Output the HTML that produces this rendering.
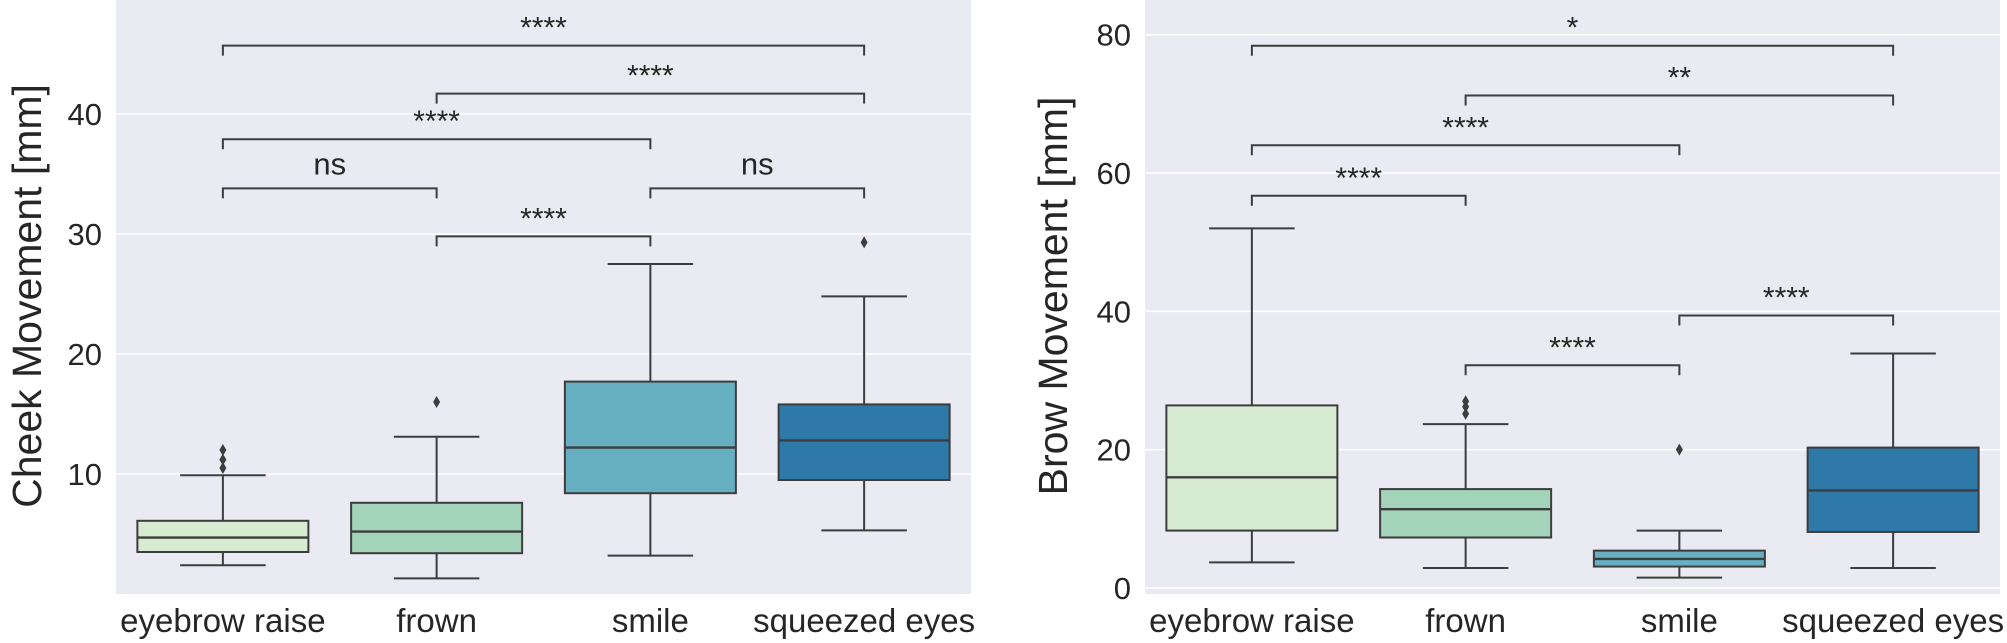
<!DOCTYPE html>
<html><head><meta charset="utf-8"><style>
html,body{margin:0;padding:0;background:#fff;}
svg{display:block;}
text{font-family:"Liberation Sans",sans-serif;fill:#262626;}
</style></head><body>
<svg id="s" width="2007" height="643" viewBox="0 0 2007 643" xmlns="http://www.w3.org/2000/svg"></svg>
<script>
const s=document.getElementById('s');let h='';
const cols=['#d6ebd2','#a3d3b9','#66afc1','#2f79a9'];
const cats=['eyebrow raise','frown','smile','squeezed eyes'];
const LC='#3d3d3d';
function panel(o){
  const {x0,x1,y0,y1,Y,ticks,data,br,label,lx}=o;
  h+=`<rect x="${x0}" y="${y0}" width="${x1-x0}" height="${y1-y0}" fill="#eaeaf2"/>`;
  ticks.forEach(t=>{const y=Y(t);h+=`<line x1="${x0}" x2="${x1}" y1="${y}" y2="${y}" stroke="#fff" stroke-width="1.6"/>`;
    h+=`<text x="${x0-14}" y="${y+11}" font-size="31" text-anchor="end">${t}</text>`;});
  const sp=(x1-x0)/4;const cx=i=>x0+sp*(i+0.5);const bw=sp*0.8;
  data.forEach((d,i)=>{const c=cx(i);const [lo,q1,md,q3,hi,out]=d;
    h+=`<line x1="${c}" x2="${c}" y1="${Y(q3)}" y2="${Y(hi)}" stroke="${LC}" stroke-width="2"/>`;
    h+=`<line x1="${c}" x2="${c}" y1="${Y(q1)}" y2="${Y(lo)}" stroke="${LC}" stroke-width="2"/>`;
    h+=`<line x1="${c-bw/4}" x2="${c+bw/4}" y1="${Y(hi)}" y2="${Y(hi)}" stroke="${LC}" stroke-width="2"/>`;
    h+=`<line x1="${c-bw/4}" x2="${c+bw/4}" y1="${Y(lo)}" y2="${Y(lo)}" stroke="${LC}" stroke-width="2"/>`;
    h+=`<rect x="${c-bw/2}" y="${Y(q3)}" width="${bw}" height="${Y(q1)-Y(q3)}" fill="${cols[i]}" stroke="${LC}" stroke-width="2"/>`;
    h+=`<line x1="${c-bw/2}" x2="${c+bw/2}" y1="${Y(md)}" y2="${Y(md)}" stroke="${LC}" stroke-width="2.4"/>`;
    (out||[]).forEach(v=>{const y=Y(v);h+=`<path d="M${c} ${y-6}L${c+3.5} ${y}L${c} ${y+6}L${c-3.5} ${y}Z" fill="${LC}"/>`;});
    h+=`<text x="${c}" y="632" font-size="33" text-anchor="middle">${cats[i]}</text>`;
  });
  br.forEach(([a,b,v,t])=>{const y=Y(v);const xa=cx(a),xb=cx(b);
    h+=`<path d="M${xa} ${y+10}V${y}H${xb}V${y+10}" fill="none" stroke="${LC}" stroke-width="2"/>`;
    const ns=t=='ns';
    h+=`<text x="${(xa+xb)/2}" y="${ns?y-14:y-8}" font-size="${ns?31:30}" text-anchor="middle">${t}</text>`;});
  h+=`<text transform="translate(${lx},296) rotate(-90)" font-size="41" text-anchor="middle">${label}</text>`;
}
panel({x0:116,x1:971,y0:0,y1:594,Y:v=>474-(v-10)*12.0,ticks:[10,20,30,40],
 data:[[2.4,3.5,4.7,6.1,9.9,[10.5,11.2,12.0]],[1.3,3.4,5.2,7.6,13.1,[16]],[3.2,8.4,12.2,17.7,27.5],[5.3,9.5,12.8,15.8,24.8,[29.3]]],
 br:[[0,1,33.8,'ns'],[1,2,29.8,'****'],[2,3,33.8,'ns'],[0,2,37.9,'****'],[1,3,41.7,'****'],[0,3,45.7,'****']],
 label:'Cheek Movement [mm]',lx:41});
panel({x0:1145,x1:2000,y0:0,y1:594,Y:v=>588-v*6.917,ticks:[0,20,40,60,80],
 data:[[3.7,8.3,16,26.4,52],[2.9,7.3,11.4,14.3,23.7,[25.2,26.2,27]],[1.5,3.1,4.2,5.4,8.3,[20]],[2.9,8.1,14.1,20.3,33.9]],
 br:[[0,1,56.7,'****'],[1,2,32.2,'****'],[2,3,39.4,'****'],[0,2,64,'****'],[1,3,71.2,'**'],[0,3,78.4,'*']],
 label:'Brow Movement [mm]',lx:1067});
s.innerHTML=h;
</script>
</body></html>
